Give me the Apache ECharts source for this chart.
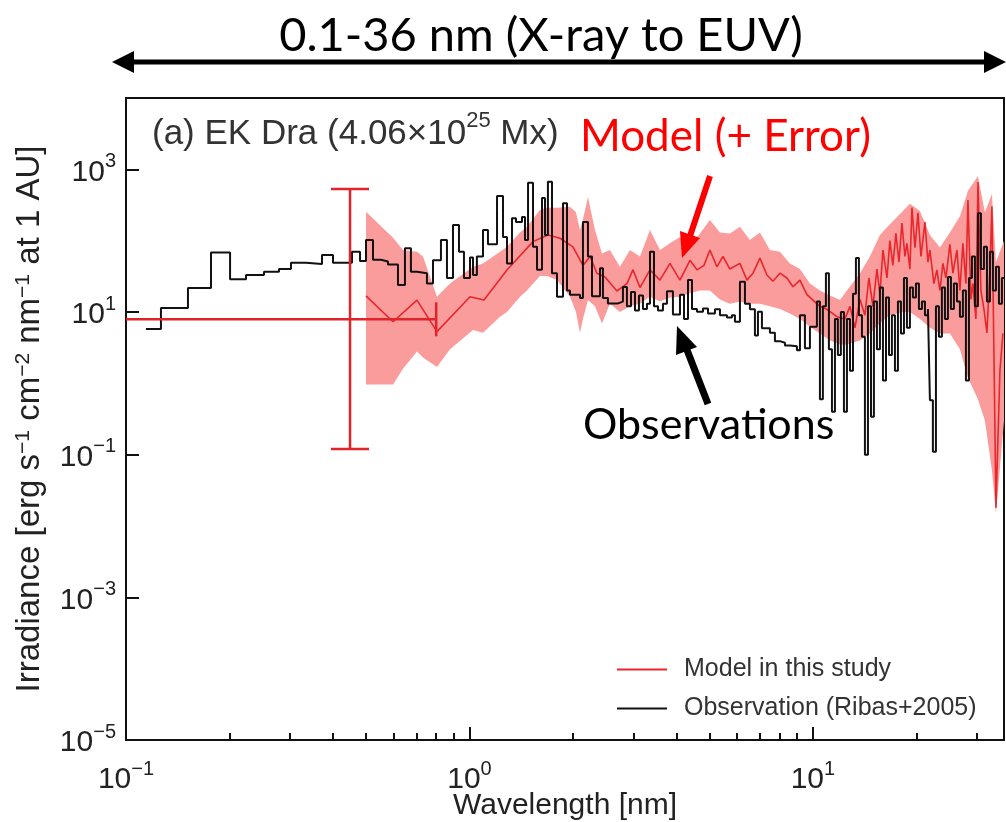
<!DOCTYPE html>
<html>
<head>
<meta charset="utf-8">
<script src="https://cdn.jsdelivr.net/npm/echarts@6/dist/echarts.min.js"></script>
<style>
html,body{margin:0;padding:0;background:#fff;}
#chart{width:1006px;height:822px;}
</style>
</head>
<body>
<div id="chart"></div>
<script>
// Observed spectrum of EK Dra (Ribas+2005): [bin start wavelength nm, irradiance]
const observed = [
  [0.1143,5.8],[0.1264,11.4],[0.1515,21.7],[0.1768,68],[0.2009,28.7],[0.2236,33],[0.2522,36.7],
  [0.2789,40],[0.3022,49],[0.3342,47],[0.3721,63],[0.4005,49],[0.4549,70],[0.4800,52],[0.4997,102],
  [0.5237,54],[0.5526,51],[0.5790,46.5],[0.6192,24],[0.6489,78],[0.6754,36.6],[0.7033,35],[0.7519,25],
  [0.7830,53],[0.8260,102],[0.8600,30],[0.8954,166],[0.9321,70],[0.9638,30],[1.0035,58],[1.024,33],
  [1.051,60],[1.095,141],[1.132,89],[1.203,422],[1.252,113],[1.286,48],[1.330,206],[1.366,183],
  [1.422,215],[1.451,102],[1.481,650],[1.531,82],[1.573,39],[1.626,398],[1.659,120],[1.692,670],
  [1.739,35],[1.798,16.3],[1.872,334],[1.923,20],[1.962,17.5],[2.098,15.7],[2.140,183],[2.213,60],
  [2.274,16.6],[2.399,41],[2.447,15.7],[2.530,13.2],[2.706,14],[2.798,22.4],[2.874,12],[2.953,19],
  [3.033,10.5],[3.115,17],[3.200,11],[3.287,13],[3.354,70],[3.445,12],[3.539,10.5],[3.659,13],
  [3.758,19.6],[3.912,9.2],[4.101,17.5],[4.213,8],[4.327,28],[4.445,11],[4.596,10.1],[4.785,11.2],
  [4.948,9.5],[5.185,10.9],[5.362,9.0],[5.619,8.4],[5.810,9.0],[5.928,7.3],[6.130,26.6],[6.339,13],
  [6.555,10.9],[6.778,4.7],[6.917,10.1],[7.104,5.9],[7.495,5.1],[7.751,3.9],[8.015,3.7],[8.289,3.4],
  [8.570,3.3],[8.982,2.9],[9.167,9],[9.478,3.1],[9.801,6.2],[10.27,14],[10.48,0.6],[10.69,12],
  [10.91,35],[11.13,3],[11.36,0.4],[11.59,8],[11.82,2.5],[12.06,10],[12.31,0.4],[12.56,8],[12.82,1.5],
  [13.08,18],[13.34,57],[13.61,9],[13.89,4.5],[14.17,0.1],[14.46,12],[14.76,0.34],[15.05,14],[15.36,3],
  [15.67,22],[15.99,1.1],[16.32,16],[16.65,2.5],[16.98,9],[17.33,1.5],[17.68,14],[18.04,5],[18.41,30],
  [18.78,6],[19.16,22],[19.55,16],[19.95,25],[20.35,11],[20.77,14],[21.19,9],[21.62,11],[21.91,0.58],
  [22.35,0.11],[22.81,12],[23.27,4.5],[23.74,22],[24.23,8],[24.72,31],[25.22,11],[25.73,25],[26.26,14],
  [26.79,8.6],[27.33,20],[27.89,1.1],[28.46,30],[29.04,60],[29.63,12],[30.23,243],[30.84,40],[31.47,82],
  [32.11,14],[32.76,70],[33.42,20],[34.11,43],[34.80,13],[35.50,30],[36,30]
];

// Model spectrum: [wavelength nm, irradiance]
const model = [
  [0.4997,16.8],[0.5990,7.3],[0.7033,14.7],[0.8043,5.3],[1.0035,16.4],[1.102,14.7],[1.286,38.8],
  [1.531,97],[1.692,120],[1.835,108],[2.001,82],[2.140,45],[2.243,60],[2.350,35],[2.480,31],[2.688,19.7],
  [2.874,25],[2.992,39],[3.137,22],[3.354,39],[3.586,28],[3.834,48],[4.101,28],[4.385,53],[4.596,39],
  [4.817,45],[5.012,74],[5.253,43],[5.470,60],[5.731,40],[6.130,48],[6.424,28],[6.689,35],[7.009,57],
  [7.346,33],[7.648,27],[8.015,35],[8.400,30],[8.745,22.6],[9.167,28],[9.605,17.5],[10.0,14.7],
  [10.48,12],[10.98,10.9],[11.75,8.6],[12.39,8],[12.82,12],[13.25,6],[13.71,15],[14.17,9],[14.55,30],
  [14.95,12],[15.36,40],[15.67,18],[15.99,74],[16.43,30],[16.75,100],[17.09,45],[17.44,127],[17.80,50],
  [18.16,177],[18.53,60],[18.78,92],[19.16,40],[19.42,290],[19.82,80],[20.22,245],[20.63,60],[21.19,183],
  [21.62,50],[21.91,74],[22.50,25],[22.96,39],[23.43,20],[23.90,48],[24.39,30],[25.05,89],[25.56,35],
  [26.26,74],[26.79,20],[27.33,92],[27.89,25],[28.27,372],[28.84,15],[29.23,25],[29.82,8],[30.23,664],
  [30.84,20],[31.47,11],[32.11,5.1],[32.76,40],[33.20,300],[33.64,3],[34.11,0.018],[35.03,1.5],[35.74,5]
];

// Model uncertainty envelope: [wavelength nm, lower, upper]
const modelBand = [
  [0.4997,0.96,255],[0.5990,0.96,110],[0.6404,1.6,74],[0.7033,2.8,70],[0.7322,2.3,60],[0.8043,1.7,16.4],
  [0.8776,3.0,25],[1.024,5.6,43],[1.095,5.1,48],[1.227,8.6,70],[1.286,10,82],[1.403,16.4,130],
  [1.470,20,157],[1.604,32,270],[1.681,32,290],[1.798,28,290],[1.962,16.4,300],[2.042,10,250],
  [2.098,5.1,141],[2.140,8,200],[2.213,14.7,411],[2.320,12,141],[2.431,6.9,66],[2.564,13,74],
  [2.742,10,43],[2.933,12,74],[3.137,13,60],[3.354,16.4,141],[3.586,14,74],[3.834,16,92],
  [4.101,16.4,113],[4.385,18.3,82],[4.688,20,126],[5.012,20,195],[5.362,15,130],[5.731,13,126],
  [6.130,14,157],[6.555,13,102],[7.009,13,130],[7.495,12,74],[8.015,11,70],[8.570,9.5,48],
  [9.167,8,40],[9.801,6.2,25],[10.48,5,20],[11.21,4,17],[11.99,3.5,14.7],[12.56,3.5,20],
  [13.71,4,35],[14.65,5,60],[15.67,7,120],[16.75,9,170],[18.28,10,260],[19.16,10,330],
  [20.49,8,260],[21.91,6,120],[23.43,5,80],[25.05,5,130],[26.79,3,220],[28.27,1.2,500],
  [30.23,0.6,800],[31.68,0.3,250],[33.20,0.06,450],[34.11,0.015,50],[36,0.3,100]
];

// Broad-band X-ray model point: [wavelength, flux, wl low, wl high, flux low, flux high]
const xrayPoint = [0.449, 7.9, 0.06, 0.8, 0.12, 530];

const xMajorTicks = [0.1, 1, 10];
const xMinorTicks = [0.2,0.3,0.4,0.5,0.6,0.7,0.8,0.9,2,3,4,5,6,7,8,9,20,30];
const yTicks = [1e-5, 1e-3, 1e-1, 1e1, 1e3];

const legendNames = ['Model in this study', 'Observation (Ribas+2005)'];

const RED = '#e8262b';
const BAND = '#fb9c9c';
const TICK_FONT = 'Liberation Sans, Arial, sans-serif';

function powLabel(v) {
  const e = Math.round(Math.log10(v));
  const s = e < 0 ? '\u2212' + (-e) : String(e);
  return '{b|10}{e|' + s + '}';
}
const powRich = {
  b: { fontFamily: TICK_FONT, fontSize: 30, color: '#222', lineHeight: 36, verticalAlign: 'bottom' },
  e: { fontFamily: TICK_FONT, fontSize: 20, color: '#222', lineHeight: 22, verticalAlign: 'top' }
};

const chart = echarts.init(document.getElementById('chart'), null, { renderer: 'canvas' });

const option = {
  animation: false,
  backgroundColor: '#fff',
  grid: {
    left: 126, top: 98, right: 2, bottom: 82, outerBoundsMode: 'none', containLabel: false,
    show: true, borderColor: '#111', borderWidth: 2, backgroundColor: 'transparent'
  },
  legend: {
    orient: 'vertical', left: 612, top: 652, itemWidth: 50, itemHeight: 2, itemGap: 14,
    icon: 'rect',
    data: legendNames, selectedMode: false,
    textStyle: { fontFamily: TICK_FONT, fontSize: 25, color: '#333', padding: [0, 0, 0, 12] }
  },
  xAxis: [
    {
      type: 'log', logBase: 10, min: 0.1, max: 36, position: 'bottom',
      name: 'Wavelength [nm]', nameLocation: 'middle', nameGap: 51, nameMoveOverlap: false,
      nameTextStyle: { fontFamily: TICK_FONT, fontSize: 30, color: '#222' },
      axisLine: { show: false },
      axisTick: { show: true, inside: true, length: 13, customValues: xMajorTicks, lineStyle: { color: '#111', width: 2 } },
      axisLabel: { customValues: xMajorTicks, margin: 19, formatter: powLabel, rich: powRich },
      splitLine: { show: false }
    },
    {
      type: 'log', logBase: 10, min: 0.1, max: 36, position: 'bottom', gridIndex: 0,
      axisLine: { show: false },
      axisTick: { show: true, inside: true, length: 7, customValues: xMinorTicks, lineStyle: { color: '#111', width: 2 } },
      axisLabel: { show: false },
      splitLine: { show: false }
    }
  ],
  yAxis: {
    type: 'log', logBase: 10, min: 1e-5, max: 1e4,
    name: 'Irradiance [erg s{s|\u22121} cm{s|\u22122} nm{s|\u22121} at 1 AU]',
    nameLocation: 'middle', nameGap: 80, nameRotate: 90, nameMoveOverlap: false,
    nameTextStyle: {
      fontFamily: TICK_FONT, fontSize: 33, color: '#222',
      rich: { s: { fontFamily: TICK_FONT, fontSize: 21, color: '#222', verticalAlign: 'top', lineHeight: 21 } }
    },
    axisLine: { show: false },
    axisTick: { show: true, inside: true, length: 13, customValues: yTicks, lineStyle: { color: '#111', width: 2 } },
    axisLabel: { customValues: yTicks, margin: 10, formatter: powLabel, rich: powRich },
    splitLine: { show: false }
  },
  series: [
    {
      // shaded model error envelope
      type: 'custom', name: 'band', silent: true, clip: true, z: 1,
      data: [[modelBand[0][0], modelBand[0][1]]],
      renderItem: function (params, api) {
        const pts = [];
        for (let i = 0; i < modelBand.length; i++) pts.push(api.coord([modelBand[i][0], modelBand[i][2]]));
        for (let i = modelBand.length - 1; i >= 0; i--) pts.push(api.coord([modelBand[i][0], modelBand[i][1]]));
        return { type: 'polygon', shape: { points: pts }, style: { fill: BAND } };
      }
    },
    {
      name: legendNames[0], type: 'line', data: model, symbol: 'none', z: 3,
      color: RED, lineStyle: { color: RED, width: 1.6 }
    },
    {
      name: legendNames[1], type: 'line', data: observed, step: 'end', symbol: 'none', z: 4,
      color: '#111', lineStyle: { color: '#111', width: 2 }
    },
    {
      // X-ray point with error bars
      type: 'custom', name: 'xray', silent: true, clip: true, z: 5,
      data: [xrayPoint],
      encode: { x: 0, y: 1 },
      renderItem: function (params, api) {
        const x = api.value(0), y = api.value(1);
        const l = api.coord([api.value(2), y]);
        const r = api.coord([api.value(3), y]);
        const b = api.coord([x, api.value(4)]);
        const t = api.coord([x, api.value(5)]);
        const st = { stroke: '#e0242a', lineWidth: 2.5 };
        const seg = (x1, y1, x2, y2) => ({ type: 'line', shape: { x1, y1, x2, y2 }, style: st });
        return {
          type: 'group',
          children: [
            seg(l[0], l[1], r[0], r[1]),
            seg(r[0], r[1] - 17, r[0], r[1] + 17),
            seg(t[0], t[1], b[0], b[1]),
            seg(t[0] - 19, t[1], t[0] + 19, t[1]),
            seg(b[0] - 19, b[1], b[0] + 19, b[1])
          ]
        };
      }
    }
  ],
  graphic: [
    {
      type: 'text', x: 541, y: 36,
      style: { text: '0.1-36 nm (X-ray to EUV)', font: '47px Lato', fill: '#000', align: 'center', verticalAlign: 'middle' }
    },
    { type: 'line', shape: { x1: 128, y1: 62, x2: 990, y2: 62 }, style: { stroke: '#000', lineWidth: 5 } },
    { type: 'polygon', shape: { points: [[112, 62], [134, 51], [134, 73]] }, style: { fill: '#000' } },
    { type: 'polygon', shape: { points: [[1006, 62], [984, 51], [984, 73]] }, style: { fill: '#000' } },
    {
      type: 'text', x: 152, y: 131, z: 10,
      style: {
        text: '{n|(a) EK Dra (4.06\u00d710}{s|25}{n| Mx)}',
        align: 'left', verticalAlign: 'middle',
        rich: {
          n: { fontFamily: TICK_FONT, fontSize: 35, fill: '#333', lineHeight: 42, verticalAlign: 'bottom' },
          s: { fontFamily: TICK_FONT, fontSize: 22, fill: '#333', lineHeight: 24, verticalAlign: 'top' }
        }
      }
    },
    {
      type: 'text', x: 580, y: 137, z: 10,
      style: { text: 'Model (+ Error)', font: '44px Lato', fill: '#ff0000', align: 'left', verticalAlign: 'middle' }
    },
    { type: 'line', z: 10, shape: { x1: 710, y1: 176, x2: 690, y2: 236 }, style: { stroke: '#ff0000', lineWidth: 6 } },
    { type: 'polygon', z: 10, shape: { points: [[682, 258], [700, 238], [680, 231]] }, style: { fill: '#ff0000' } },
    {
      type: 'text', x: 583, y: 425, z: 10,
      style: { text: 'Observations', font: '43px Lato', fill: '#000', align: 'left', verticalAlign: 'middle' }
    },
    { type: 'line', z: 10, shape: { x1: 708, y1: 404, x2: 687, y2: 350 }, style: { stroke: '#000', lineWidth: 7 } },
    { type: 'polygon', z: 10, shape: { points: [[677, 326], [697, 347], [676, 355]] }, style: { fill: '#000' } }
  ]
};

chart.setOption(option);
</script>
</body>
</html>
